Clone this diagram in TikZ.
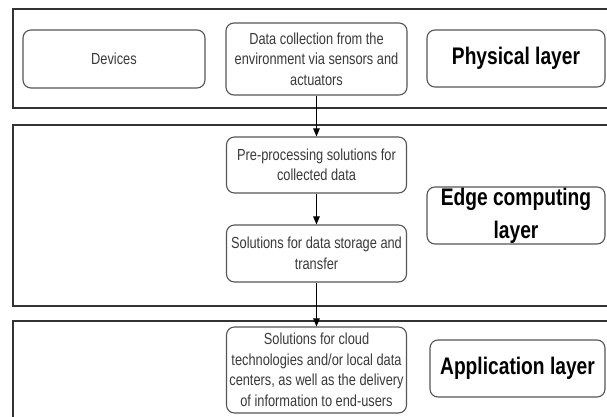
\documentclass[tikz,border=0pt]{standalone}
\usepackage{fontspec}
\setmainfont{Liberation Sans}
\newfontfamily\labfont{Liberation Sans}[FakeStretch=0.8]
\usetikzlibrary{arrows.meta}
\definecolor{boxline}{HTML}{555555}
\definecolor{layerline}{HTML}{333333}
\definecolor{txt}{HTML}{3A3A3A}
\tikzset{
  layerbox/.style={draw=layerline, line width=1.2pt},
  innerbox/.style={draw=boxline, line width=1.1pt, rounded corners=8pt, align=center,
     inner sep=0pt, text=txt, font=\labfont\fontsize{16}{20.5}\selectfont},
  titlebox/.style={draw=boxline, line width=1.1pt, rounded corners=8pt, align=center,
     inner sep=0pt, text=black, font=\labfont\bfseries\fontsize{24}{33}\selectfont},
  arr/.style={draw=black, line width=1pt, -{Triangle[length=8pt,width=6.5pt]}}
}
\begin{document}
\begin{tikzpicture}[x=1pt,y=-1pt]
\useasboundingbox (0,0) rectangle (607,417);
\clip (0,0) rectangle (607,417);
\fill[white] (0,0) rectangle (607,417);
% layers
\draw[layerbox] (13,9) rectangle (625,108);
\draw[layerbox] (13,125) rectangle (625,306);
\draw[layerbox] (13,321) rectangle (625,440);
% physical layer
\node[innerbox, minimum width=182pt, minimum height=58pt] (dev) at (114,59) {Devices};
\node[innerbox, minimum width=181pt, minimum height=72pt] (dc) at (316.5,59)
  {Data collection from the\\environment via sensors and\\actuators};
\node[titlebox, minimum width=178pt, minimum height=57pt] (phy) at (516,58.5) {Physical layer};
% edge computing layer
\node[innerbox, minimum width=180pt, minimum height=56pt] (pre) at (316.5,165)
  {Pre-processing solutions for\\collected data};
\node[innerbox, minimum width=180pt, minimum height=57pt] (sto) at (316.5,253.5)
  {Solutions for data storage and\\transfer};
\node[titlebox, minimum width=178pt, minimum height=57pt] (edge) at (516,215.5)
  {Edge computing\\layer};
% application layer
\node[innerbox, minimum width=180pt, minimum height=86pt] (cloud) at (316.5,370)
  {Solutions for cloud\\technologies and/or local data\\centers, as well as the delivery\\of information to end-users};
\node[titlebox, minimum width=175pt, minimum height=57pt] (app) at (517.5,368.5) {Application layer};
% connectors
\draw[arr] (dc.south) -- (pre.north);
\draw[arr] (pre.south) -- (sto.north);
\draw[arr] (sto.south) -- (cloud.north);
\end{tikzpicture}
\end{document}
